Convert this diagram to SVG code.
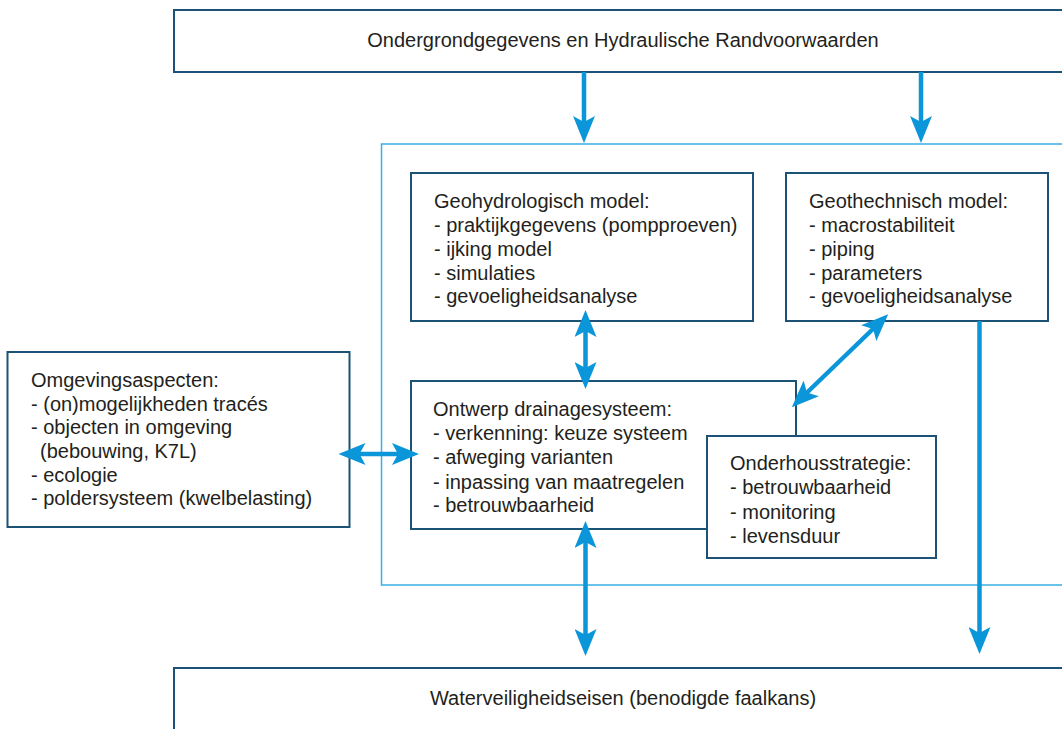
<svg xmlns="http://www.w3.org/2000/svg" width="1062" height="729" viewBox="0 0 1062 729">
  <defs>
    <style>
      .box { fill: #ffffff; stroke: #1b5275; stroke-width: 2; }
      .frame { fill: none; stroke: #3aaee3; stroke-width: 1.5; }
      .lbl { font-family: "Liberation Sans", Arial, sans-serif; font-size: 20px; fill: #231f20; }
      .mid { text-anchor: middle; }
      .conn { fill: none; stroke: #0a96d9; stroke-width: 4.5; marker-end: url(#head); }
      .conn.both { marker-start: url(#head); }
    </style>
    <!-- notched arrowhead; the line stops 8px short of the tip -->
    <marker id="head" viewBox="0 -11 27 22" refX="8" refY="0" markerWidth="27" markerHeight="22" markerUnits="userSpaceOnUse" orient="auto-start-reverse">
      <path d="M27,0 L0,-11 L6,0 L0,11 Z" fill="#0a96d9"/>
    </marker>
  </defs>

  <rect width="1062" height="729" fill="#ffffff"/>

  <!-- light blue frame around the modelling stage -->
  <rect id="frame" class="frame" x="381.5" y="144" width="700" height="441"/>

  <g id="input">
    <rect class="box" x="174" y="10" width="900" height="62"/>
    <text class="lbl mid" x="623" y="47">Ondergrondgegevens en Hydraulische Randvoorwaarden</text>
  </g>

  <g id="geohydro">
    <rect class="box" x="411" y="173" width="342" height="148"/>
    <text class="lbl" x="434" y="208">Geohydrologisch model:</text>
    <text class="lbl" x="434" y="232">- praktijkgegevens (pompproeven)</text>
    <text class="lbl" x="434" y="255.5">- ijking model</text>
    <text class="lbl" x="434" y="279.5">- simulaties</text>
    <text class="lbl" x="434" y="303">- gevoeligheidsanalyse</text>
  </g>

  <g id="geotech">
    <rect class="box" x="786" y="173" width="262" height="148"/>
    <text class="lbl" x="809" y="208">Geothechnisch model:</text>
    <text class="lbl" x="809" y="232">- macrostabiliteit</text>
    <text class="lbl" x="809" y="255.5">- piping</text>
    <text class="lbl" x="809" y="279.5">- parameters</text>
    <text class="lbl" x="809" y="303">- gevoeligheidsanalyse</text>
  </g>

  <g id="omgeving">
    <rect class="box" x="7.5" y="352" width="342" height="175"/>
    <text class="lbl" x="31" y="387">Omgevingsaspecten:</text>
    <text class="lbl" x="31" y="410.5">- (on)mogelijkheden tracés</text>
    <text class="lbl" x="31" y="434">- objecten in omgeving</text>
    <text class="lbl" x="40" y="457.5">(bebouwing, K7L)</text>
    <text class="lbl" x="31" y="481.5">- ecologie</text>
    <text class="lbl" x="31" y="505">- poldersysteem (kwelbelasting)</text>
  </g>

  <g id="ontwerp">
    <rect class="box" x="411" y="381" width="385" height="148"/>
    <text class="lbl" x="433" y="416">Ontwerp drainagesysteem:</text>
    <text class="lbl" x="433" y="440">- verkenning: keuze systeem</text>
    <text class="lbl" x="433" y="464">- afweging varianten</text>
    <text class="lbl" x="433" y="488.5">- inpassing van maatregelen</text>
    <text class="lbl" x="433" y="512">- betrouwbaarheid</text>
  </g>

  <g id="onderhoud">
    <rect class="box" x="707" y="436" width="229" height="122"/>
    <text class="lbl" x="730" y="470">Onderhousstrategie:</text>
    <text class="lbl" x="730" y="494">- betrouwbaarheid</text>
    <text class="lbl" x="730" y="518.5">- monitoring</text>
    <text class="lbl" x="730" y="543">- levensduur</text>
  </g>

  <g id="eisen">
    <rect class="box" x="174" y="668" width="900" height="80"/>
    <text class="lbl mid" x="623" y="705">Waterveiligheidseisen (benodigde faalkans)</text>
  </g>

  <g id="connectors">
    <path class="conn" d="M584,72 L584,124"/>
    <path class="conn" d="M921,72 L921,124"/>
    <path class="conn both" d="M585.5,329 L585.5,370"/>
    <path class="conn both" d="M874.5,327.5 L805.5,394"/>
    <path class="conn both" d="M357.5,454 L400,454"/>
    <path class="conn both" d="M585.5,540 L585.5,637"/>
    <path class="conn" d="M979.5,321 L979.5,635"/>
  </g>
</svg>
